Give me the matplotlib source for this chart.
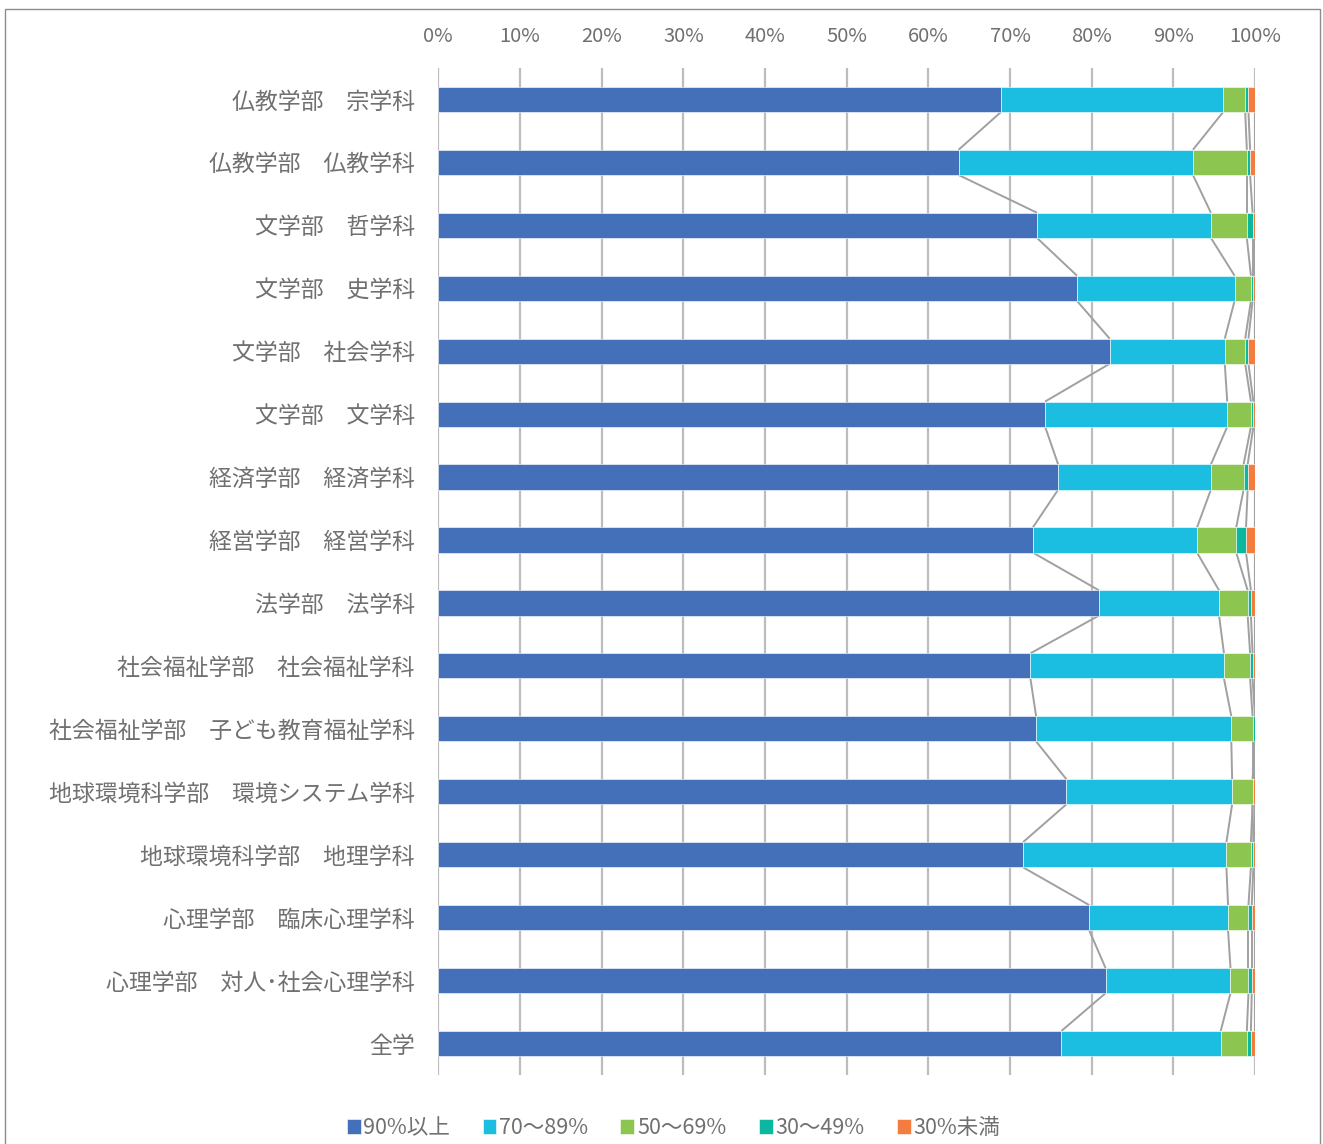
import numpy as np
import matplotlib
matplotlib.use("Agg")
import matplotlib.pyplot as plt
from matplotlib.patches import Rectangle
from matplotlib.ticker import MultipleLocator, FuncFormatter

plt.rcParams["font.family"] = ["Noto Sans CJK JP", "DejaVu Sans"]

# ======================================================
# DATA (percent of students per attendance band)
# ======================================================
categories = [
    "仏教学部　宗学科",
    "仏教学部　仏教学科",
    "文学部　哲学科",
    "文学部　史学科",
    "文学部　社会学科",
    "文学部　文学科",
    "経済学部　経済学科",
    "経営学部　経営学科",
    "法学部　法学科",
    "社会福祉学部　社会福祉学科",
    "社会福祉学部　子ども教育福祉学科",
    "地球環境科学部　環境システム学科",
    "地球環境科学部　地理学科",
    "心理学部　臨床心理学科",
    "心理学部　対人･社会心理学科",
    "全学",
]

series_names = ["90%以上", "70～89%", "50～69%", "30～49%", "30%未満"]

s90 = [68.9, 63.7, 73.3, 78.2, 82.2, 74.3, 75.9, 72.8, 80.9, 72.5, 73.2, 76.9, 71.6, 79.7, 81.7, 76.3]
s70 = [27.2, 28.7, 21.3, 19.3, 14.1, 22.3, 18.7, 20.1, 14.7, 23.7, 23.9, 20.3, 24.9, 17.0, 15.3, 19.5]
s50 = [2.7, 6.6, 4.4, 2.0, 2.5, 2.9, 4.0, 4.8, 3.5, 3.2, 2.6, 2.5, 3.0, 2.5, 2.2, 3.2]
s30 = [0.4, 0.4, 0.7, 0.2, 0.4, 0.3, 0.5, 1.2, 0.4, 0.3, 0.3, 0.0, 0.3, 0.4, 0.4, 0.5]
s00 = [0.8, 0.6, 0.3, 0.3, 0.8, 0.2, 0.9, 1.1, 0.5, 0.3, 0.0, 0.3, 0.2, 0.4, 0.4, 0.5]

colors = ["#4470BA", "#1BBEE0", "#8CC550", "#0CB7A0", "#F27D3E"]
text_color = "#707070"
grid_color = "#BDBDBD"
series_line_color = "#A0A0A0"

# ======================================================
# PLOTTING
# ======================================================
fig = plt.figure(figsize=(13.23, 11.44), dpi=100)
ax = fig.add_axes([0.3313, 0.0603, 0.6173, 0.8803])

data = np.array([s90, s70, s50, s30, s00])
y = np.arange(len(categories))
bar_h = 0.4

left = np.zeros(len(categories))
for vals, name, col in zip(data, series_names, colors):
    ax.barh(y, vals, left=left, height=bar_h, color=col, label=name,
            edgecolor="white", linewidth=0.4, zorder=3)
    left = left + vals

# series lines between neighbouring bars
cum = np.cumsum(data, axis=0)
for row in cum:
    for i in range(len(categories) - 1):
        ax.plot([row[i], row[i + 1]], [y[i] + bar_h / 2, y[i + 1] - bar_h / 2],
                color=series_line_color, lw=1.4, zorder=2, solid_capstyle="butt")

# ======================================================
# AXES
# ======================================================
ax.set_xlim(0, 100)
ax.set_ylim(len(categories) - 0.5, -0.5)
ax.set_yticks(y)
ax.set_yticklabels(categories)
ax.xaxis.tick_top()
ax.xaxis.set_major_locator(MultipleLocator(10))
ax.xaxis.set_major_formatter(FuncFormatter(lambda v, p: f"{v:.0f}%"))
ax.tick_params(axis="x", length=0, pad=15, labelsize=14.5, colors=text_color)
ax.tick_params(axis="y", length=0, pad=17, labelsize=16.5, colors=text_color)
ax.grid(axis="x", color=grid_color, lw=1.6, zorder=0)
ax.set_axisbelow(True)
for sp in ax.spines.values():
    sp.set_visible(False)

# legend
leg = fig.legend(loc="center", bbox_to_anchor=(0.509, 0.014), ncol=5, frameon=False,
                 fontsize=15.5, handlelength=0.65, handleheight=0.65,
                 handletextpad=0.12, columnspacing=1.5)
for t in leg.get_texts():
    t.set_color(text_color)

# chart border
fig.patches.append(Rectangle((5 / 1323, -0.01), 1315 / 1323, 1 - 9 / 1144 + 0.01,
                             transform=fig.transFigure, fill=False,
                             edgecolor="#8C8C8C", lw=1.0))

fig.savefig("out.png", dpi=100)
plt.close(fig)
